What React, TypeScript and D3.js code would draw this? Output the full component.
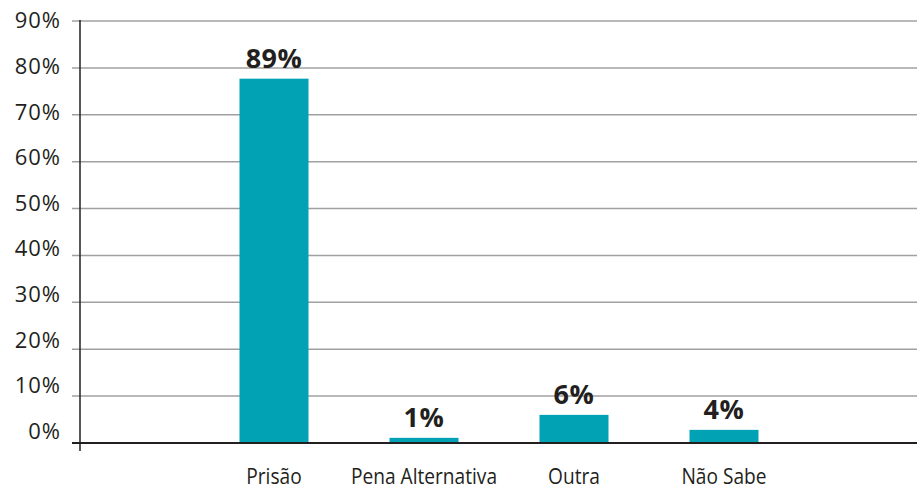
import React from "react";
import * as d3 from "d3";

const categories = ["Prisão", "Pena Alternativa", "Outra", "Não Sabe"];
const barValues = [77.7, 1.1, 6.0, 2.8];
const valueLabels = ["89%", "1%", "6%", "4%"];
const yTicks = [0, 10, 20, 30, 40, 50, 60, 70, 80, 90];

const W = 917;
const H = 490;
const FONT = "'Open Sans', 'DejaVu Sans', sans-serif";

export default function App() {
  const axisX = 80;
  const y = d3.scaleLinear().domain([0, 90]).range([443, 21]);
  const yLabel = d3.scaleLinear().domain([0, 90]).range([431, 20.5]);
  const x = d3
    .scaleBand<string>()
    .domain(categories)
    .range([199, 799])
    .paddingInner(0.54)
    .paddingOuter(0.27);

  return (
    <svg width={W} height={H} style={{ position: "absolute", left: 0, top: 0 }}>
      <rect width={W} height={H} fill="#fff" />
      {yTicks.map((t) => (
        <g key={t}>
          {t > 0 && (
            <line x1={72} x2={W} y1={y(t)} y2={y(t)} stroke="#a0a0a0" strokeWidth={1.5} />
          )}
          <text
            x={61}
            y={yLabel(t)}
            dy="0.36em"
            textAnchor="end"
            fontFamily={FONT}
            fontSize={22}
            letterSpacing={1}
            fill="#231f20"
          >
            {t}%
          </text>
        </g>
      ))}
      {categories.map((c, i) => {
        const cx = (x(c) as number) + x.bandwidth() / 2;
        return (
          <g key={c}>
            <rect
              x={x(c)}
              y={y(barValues[i])}
              width={x.bandwidth()}
              height={y(0) - y(barValues[i])}
              fill="#00a2b4"
            />
            <text
              x={cx}
              y={y(barValues[i]) - 11}
              textAnchor="middle"
              fontFamily={FONT}
              fontWeight="bold"
              fontSize={27}
              letterSpacing={0.5}
              fill="#231f20"
            >
              {valueLabels[i]}
            </text>
            <text
              transform={`translate(${cx},483.5) scale(0.87,1)`}
              textAnchor="middle"
              fontFamily={FONT}
              fontSize={22}
              fill="#231f20"
            >
              {c}
            </text>
          </g>
        );
      })}
      <line x1={72} x2={W} y1={y(0)} y2={y(0)} stroke="#231f20" strokeWidth={2} />
      <line x1={axisX} x2={axisX} y1={y(90) - 1} y2={451} stroke="#231f20" strokeWidth={1.5} />
    </svg>
  );
}
